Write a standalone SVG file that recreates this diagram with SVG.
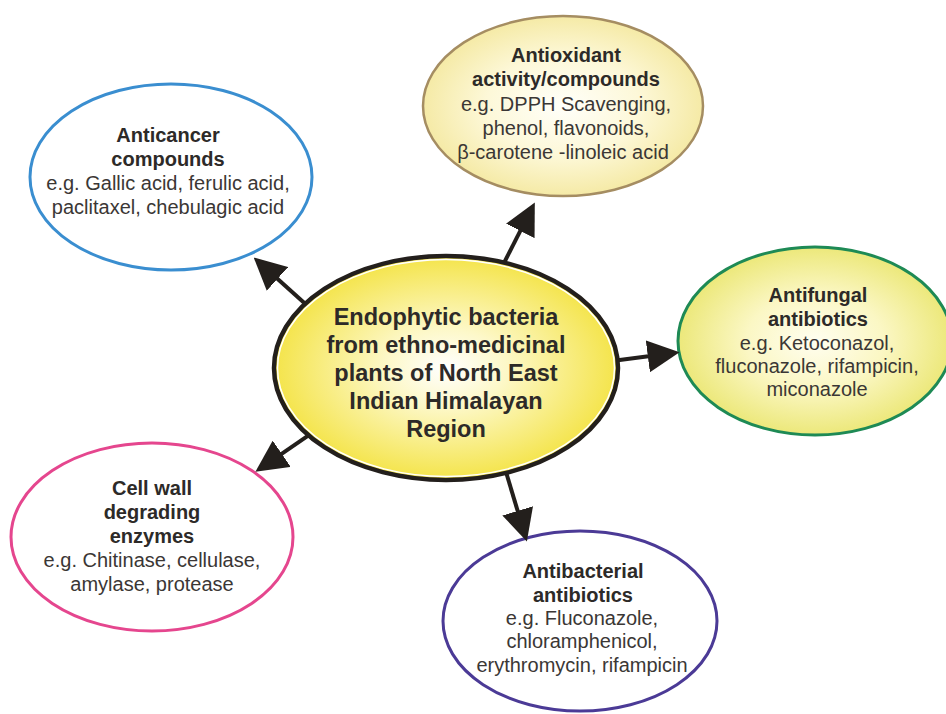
<svg xmlns="http://www.w3.org/2000/svg" width="946" height="714" viewBox="0 0 946 714">
<defs>
<radialGradient id="gCenter" cx="50%" cy="50%" r="50%">
<stop offset="0%" stop-color="#ffffff"/>
<stop offset="35%" stop-color="#fdf8c8"/>
<stop offset="100%" stop-color="#f4e44a"/>
</radialGradient>
<radialGradient id="gOx" cx="50%" cy="50%" r="50%">
<stop offset="0%" stop-color="#fffffa"/>
<stop offset="55%" stop-color="#fdf8d8"/>
<stop offset="100%" stop-color="#f5eaa6"/>
</radialGradient>
<radialGradient id="gFun" cx="50%" cy="50%" r="50%">
<stop offset="0%" stop-color="#fffef0"/>
<stop offset="50%" stop-color="#fbf7c4"/>
<stop offset="100%" stop-color="#ece87a"/>
</radialGradient>
<marker id="ah" viewBox="0 0 10 10" markerWidth="8" markerHeight="8" refX="2" refY="5" orient="auto">
<path d="M0,0 L10,5 L0,10 z" fill="#231f1c"/>
</marker>
</defs>
<style>
.t{font-family:"Liberation Sans",Arial,sans-serif;font-size:20px;fill:#3b3735;text-anchor:middle}
.b{font-weight:bold;fill:#2d2a28}
.c{font-family:"Liberation Sans",Arial,sans-serif;font-size:23.5px;font-weight:bold;fill:#2d2a28;text-anchor:middle}
.conn line{stroke:#231f1c;stroke-width:4;marker-end:url(#ah)}
</style>
<rect width="946" height="714" fill="#ffffff"/>

<g id="anticancer">
<ellipse cx="171" cy="177" rx="141" ry="93" fill="#ffffff" stroke="#3a8ed0" stroke-width="3"/>
<text class="t b" x="168" y="142">Anticancer</text>
<text class="t b" x="168" y="166">compounds</text>
<text class="t" x="168" y="190">e.g. Gallic acid, ferulic acid,</text>
<text class="t" x="168" y="214">paclitaxel, chebulagic acid</text>
</g>

<g id="antioxidant">
<ellipse cx="563" cy="106" rx="140" ry="90" fill="url(#gOx)" stroke="#a58d62" stroke-width="2.5"/>
<text class="t b" x="566" y="62">Antioxidant</text>
<text class="t b" x="566" y="86">activity/compounds</text>
<text class="t" x="566" y="111">e.g. DPPH Scavenging,</text>
<text class="t" x="566" y="135">phenol, flavonoids,</text>
<text class="t" x="563" y="159">β-carotene -linoleic acid</text>
</g>

<g id="antifungal">
<ellipse cx="815" cy="341" rx="137" ry="94" fill="url(#gFun)" stroke="#1e8a55" stroke-width="3"/>
<text class="t b" x="818" y="302">Antifungal</text>
<text class="t b" x="818" y="326">antibiotics</text>
<text class="t" x="817" y="350">e.g. Ketoconazol,</text>
<text class="t" x="817" y="373">fluconazole, rifampicin,</text>
<text class="t" x="817" y="396">miconazole</text>
</g>

<g id="cellwall">
<ellipse cx="152" cy="537" rx="141" ry="94" fill="#ffffff" stroke="#e5468e" stroke-width="3"/>
<text class="t b" x="152" y="495">Cell wall</text>
<text class="t b" x="152" y="519">degrading</text>
<text class="t b" x="152" y="543">enzymes</text>
<text class="t" x="152" y="567">e.g. Chitinase, cellulase,</text>
<text class="t" x="152" y="591">amylase, protease</text>
</g>

<g id="antibacterial">
<ellipse cx="580" cy="621" rx="137" ry="90" fill="#ffffff" stroke="#4b3a96" stroke-width="3"/>
<text class="t b" x="583" y="578">Antibacterial</text>
<text class="t b" x="583" y="602">antibiotics</text>
<text class="t" x="582" y="625">e.g. Fluconazole,</text>
<text class="t" x="582" y="648">chloramphenicol,</text>
<text class="t" x="582" y="672">erythromycin, rifampicin</text>
</g>

<g id="connectors" class="conn">
<line x1="311" y1="309" x2="272.7" y2="274.6"/>
<line x1="500.4" y1="270" x2="523.2" y2="225.2"/>
<line x1="612" y1="361" x2="654.2" y2="355.6"/>
<line x1="505.4" y1="470" x2="519.5" y2="517"/>
<line x1="314" y1="431.7" x2="276.5" y2="457.4"/>
</g>

<g id="center">
<ellipse cx="446" cy="368" rx="172" ry="112" fill="url(#gCenter)" stroke="#231f1c" stroke-width="4.5"/>
<ellipse cx="446" cy="368" rx="168.5" ry="108.5" fill="none" stroke="#ffffff" stroke-width="1.5"/>
<text class="c" x="446" y="325">Endophytic bacteria</text>
<text class="c" x="446" y="353">from ethno-medicinal</text>
<text class="c" x="446" y="381">plants of North East</text>
<text class="c" x="446" y="409">Indian Himalayan</text>
<text class="c" x="446" y="437">Region</text>
</g>
</svg>
